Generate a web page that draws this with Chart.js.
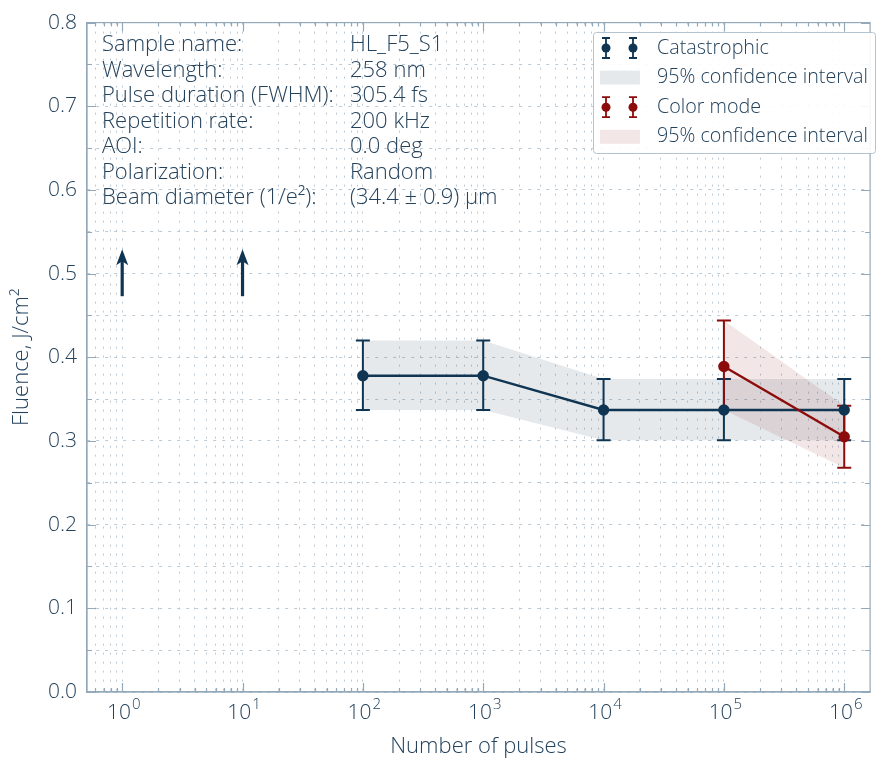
<!DOCTYPE html>
<html>
<head>
<meta charset="utf-8">
<script src="https://cdn.jsdelivr.net/npm/chart.js@4.4.0/dist/chart.umd.min.js"></script>
<style>
  html, body { margin: 0; padding: 0; background: #fff; }
  #wrap { width: 877px; height: 758px; }
</style>
</head>
<body>
<div id="wrap"><canvas id="chart" width="877" height="758"></canvas></div>
<script>
/* ============ DATA ============== */
const pulses        = [100, 1000, 10000, 100000, 1000000];
const catastrophic  = [0.378, 0.378, 0.337, 0.337, 0.337];
const catLow        = [0.337, 0.337, 0.301, 0.301, 0.301];
const catHigh       = [0.420, 0.420, 0.374, 0.374, 0.374];

const colorPulses   = [100000, 1000000];
const colorMode     = [0.389, 0.305];
const colorLow      = [0.337, 0.268];
const colorHigh     = [0.444, 0.342];

// lower bounds (no damage seen) drawn as arrows
const arrowPulses   = [1, 10];
const arrowFrom     = 0.473;
const arrowTo       = 0.529;

const xMin = 0.51, xMax = 1.64e6;
const yMin = 0, yMax = 0.8, yStep = 0.05;
const decades = [-1, 0, 1, 2, 3, 4, 5, 6];

const infoKeys   = ["Sample name:", "Wavelength:", "Pulse duration (FWHM):", "Repetition rate:", "AOI:", "Polarization:", "Beam diameter (1/e²):"];
const infoValues = ["HL_F5_S1", "258 nm", "305.4 fs", "200 kHz", "0.0 deg", "Random", "(34.4 ± 0.9) µm"];

/* ============ STYLE ============== */
const NAVY = "#0f3552";
const RED = "#8c0c0c";
const TEXT = "#24425c";
const AXIS = "#93a8b8";
const GRID = "#bccad5";
const FONT = "'Open Sans', 'Noto Sans', sans-serif";

Chart.defaults.font.family = FONT;
Chart.defaults.font.weight = "300";
Chart.defaults.color = TEXT;

const pts = (xs, ys) => xs.map((x, i) => ({x, y: ys[i]}));

/* ============ PLUGINS ============== */
const errorBars = {
  id: "errorBars",
  beforeDatasetsDraw(chart){
    const {ctx, scales:{x, y}} = chart;
    const sets = [[pulses, catLow, catHigh, NAVY], [colorPulses, colorLow, colorHigh, RED]];
    ctx.save();
    ctx.lineWidth = 2;
    sets.forEach(([xs, lo, hi, c]) => {
      ctx.strokeStyle = c;
      xs.forEach((v, i) => {
        const px = x.getPixelForValue(v), y1 = y.getPixelForValue(lo[i]), y2 = y.getPixelForValue(hi[i]);
        ctx.beginPath();
        ctx.moveTo(px, y1); ctx.lineTo(px, y2);
        ctx.moveTo(px - 7, y1); ctx.lineTo(px + 7, y1);
        ctx.moveTo(px - 7, y2); ctx.lineTo(px + 7, y2);
        ctx.stroke();
      });
    });
    // arrows
    ctx.fillStyle = NAVY; ctx.strokeStyle = NAVY; ctx.lineWidth = 3.2;
    arrowPulses.forEach(v => {
      const px = x.getPixelForValue(v), yb = y.getPixelForValue(arrowFrom), yt = y.getPixelForValue(arrowTo);
      ctx.beginPath(); ctx.moveTo(px, yb); ctx.lineTo(px, yt + 10); ctx.stroke();
      ctx.beginPath(); ctx.moveTo(px, yt); ctx.lineTo(px - 6, yt + 16); ctx.lineTo(px, yt + 12); ctx.lineTo(px + 6, yt + 16); ctx.closePath(); ctx.fill();
    });
    ctx.restore();
  }
};

const frame = {
  id: "frame",
  afterDraw(chart){
    const {ctx, chartArea:a, scales:{x, y}} = chart;
    ctx.save();
    ctx.strokeStyle = AXIS;
    ctx.lineWidth = 1.2;
    ctx.strokeRect(a.left, a.top, a.right - a.left, a.bottom - a.top);
    ctx.beginPath();
    x.ticks.forEach(t => {
      const px = Math.round(x.getPixelForValue(t.value)) + 0.5;
      const len = t.major ? 9 : 4;
      ctx.moveTo(px, a.bottom); ctx.lineTo(px, a.bottom - len);
      ctx.moveTo(px, a.top); ctx.lineTo(px, a.top + len);
    });
    y.ticks.forEach(t => {
      const py = Math.round(y.getPixelForValue(t.value)) + 0.5;
      const len = Math.round(t.value * 20) % 2 === 0 ? 9 : 5;
      ctx.moveTo(a.left, py); ctx.lineTo(a.left + len, py);
      ctx.moveTo(a.right, py); ctx.lineTo(a.right - len, py);
    });
    ctx.stroke();

    // x tick labels 10^n with real superscript
    ctx.fillStyle = TEXT;
    ctx.textBaseline = "alphabetic";
    x.ticks.filter(t => t.major).forEach(t => {
      const e = String(Math.round(Math.log10(t.value)));
      ctx.font = "300 21px " + FONT;
      const wb = ctx.measureText("10").width;
      ctx.font = "300 15px " + FONT;
      const we = ctx.measureText(e).width;
      const px = x.getPixelForValue(t.value) - (wb + we) / 2 + 1;
      ctx.font = "300 21px " + FONT;
      ctx.fillText("10", px, a.bottom + 27);
      ctx.font = "300 15px " + FONT;
      ctx.fillText(e, px + wb + 1, a.bottom + 17);
    });

    // info text
    ctx.font = "300 22px " + FONT;
    ctx.textBaseline = "middle";
    infoKeys.forEach((k, i) => {
      ctx.fillText(k, 102, 45 + i * 25.5);
      ctx.fillText(infoValues[i], 350, 45 + i * 25.5);
    });

    // legend
    const bx = 593, by = 32, bw = 282, bh = 121;
    ctx.fillStyle = "rgba(255,255,255,0.9)";
    ctx.strokeStyle = "#b3c3cf";
    ctx.lineWidth = 1;
    ctx.beginPath(); ctx.roundRect(bx + 0.5, by + 0.5, bw, bh, 3); ctx.fill(); ctx.stroke();
    const rows = [
      {label: chart.data.datasets[0].label, kind: "bar", c: NAVY},
      {label: chart.data.datasets[2].label, kind: "patch", c: "rgba(15,53,82,0.11)"},
      {label: chart.data.datasets[1].label, kind: "bar", c: RED},
      {label: chart.data.datasets[4].label, kind: "patch", c: "rgba(140,12,12,0.10)"}
    ];
    ctx.font = "300 19.7px " + FONT;
    rows.forEach((r, i) => {
      const cy = 48 + i * 29.6;
      if (r.kind === "bar") {
        ctx.strokeStyle = r.c; ctx.fillStyle = r.c; ctx.lineWidth = 1.8;
        [606, 633].forEach(mx => {
          ctx.beginPath();
          ctx.moveTo(mx, cy - 10); ctx.lineTo(mx, cy + 10);
          ctx.moveTo(mx - 4, cy - 10); ctx.lineTo(mx + 4, cy - 10);
          ctx.moveTo(mx - 4, cy + 10); ctx.lineTo(mx + 4, cy + 10);
          ctx.stroke();
          ctx.beginPath(); ctx.arc(mx, cy, 4.5, 0, Math.PI * 2); ctx.fill();
        });
      } else {
        ctx.fillStyle = r.c;
        ctx.fillRect(600, cy - 7, 40, 14);
      }
      ctx.fillStyle = TEXT;
      ctx.fillText(r.label, 657, cy);
    });
    ctx.restore();
  }
};

/* ============ CHART ============== */
new Chart(document.getElementById("chart"), {
  type: "line",
  data: {
    datasets: [
      {label: "Catastrophic", data: pts(pulses, catastrophic), borderColor: NAVY, backgroundColor: NAVY,
       borderWidth: 2.4, pointRadius: 4.5, pointHoverRadius: 4.5, fill: false, order: 1},
      {label: "Color mode", data: pts(colorPulses, colorMode), borderColor: RED, backgroundColor: RED,
       borderWidth: 2.4, pointRadius: 4.5, pointHoverRadius: 4.5, fill: false, order: 0},
      {label: "95% confidence interval", data: pts(pulses, catHigh), borderWidth: 0, pointRadius: 0,
       backgroundColor: "rgba(15,53,82,0.11)", fill: "+1", order: 3},
      {label: "", data: pts(pulses, catLow), borderWidth: 0, pointRadius: 0, fill: false, order: 3},
      {label: "95% confidence interval", data: pts(colorPulses, colorHigh), borderWidth: 0, pointRadius: 0,
       backgroundColor: "rgba(140,12,12,0.10)", fill: "+1", order: 2},
      {label: "", data: pts(colorPulses, colorLow), borderWidth: 0, pointRadius: 0, fill: false, order: 2}
    ]
  },
  options: {
    responsive: false,
    animation: false,
    layout: {padding: {top: 20, right: 1, left: 0, bottom: 0}},
    plugins: {
      legend: {display: false},
      tooltip: {enabled: false},
      filler: {drawTime: "beforeDatasetsDraw"}
    },
    scales: {
      x: {
        type: "logarithmic",
        min: xMin, max: xMax,
        afterBuildTicks: s => {
          const t = [];
          decades.forEach(e => {
            for (let m = 1; m <= 9; m++) {
              const v = m * Math.pow(10, e);
              if (v >= xMin && v <= xMax) t.push({value: v, major: m === 1});
            }
          });
          s.ticks = t;
        },
        afterFit: s => { s.height = 66; },
        grid: {color: GRID, lineWidth: 1, drawTicks: false},
        border: {color: AXIS, width: 1.2, dash: [2, 7]},
        ticks: {autoSkip: false, maxRotation: 0, padding: 6, font: {size: 21}, callback: () => ""},
        title: {display: true, text: "Number of pulses", font: {size: 22, weight: "300"}, padding: {top: 0, bottom: -2}}
      },
      y: {
        min: yMin, max: yMax,
        afterFit: s => { s.width = 87; },
        grid: {color: GRID, lineWidth: 1, drawTicks: false},
        border: {color: AXIS, width: 1.2, dash: [3, 6]},
        ticks: {
          stepSize: yStep, padding: 10,
          font: {size: 21, weight: "300"},
          callback: v => Math.round(v * 20) % 2 === 0 ? v.toFixed(1) : ""
        },
        title: {display: true, text: "Fluence, J/cm²", font: {size: 22, weight: "300"}, padding: {top: 9, bottom: 0}}
      }
    }
  },
  plugins: [errorBars, frame]
});
</script>
</body>
</html>
